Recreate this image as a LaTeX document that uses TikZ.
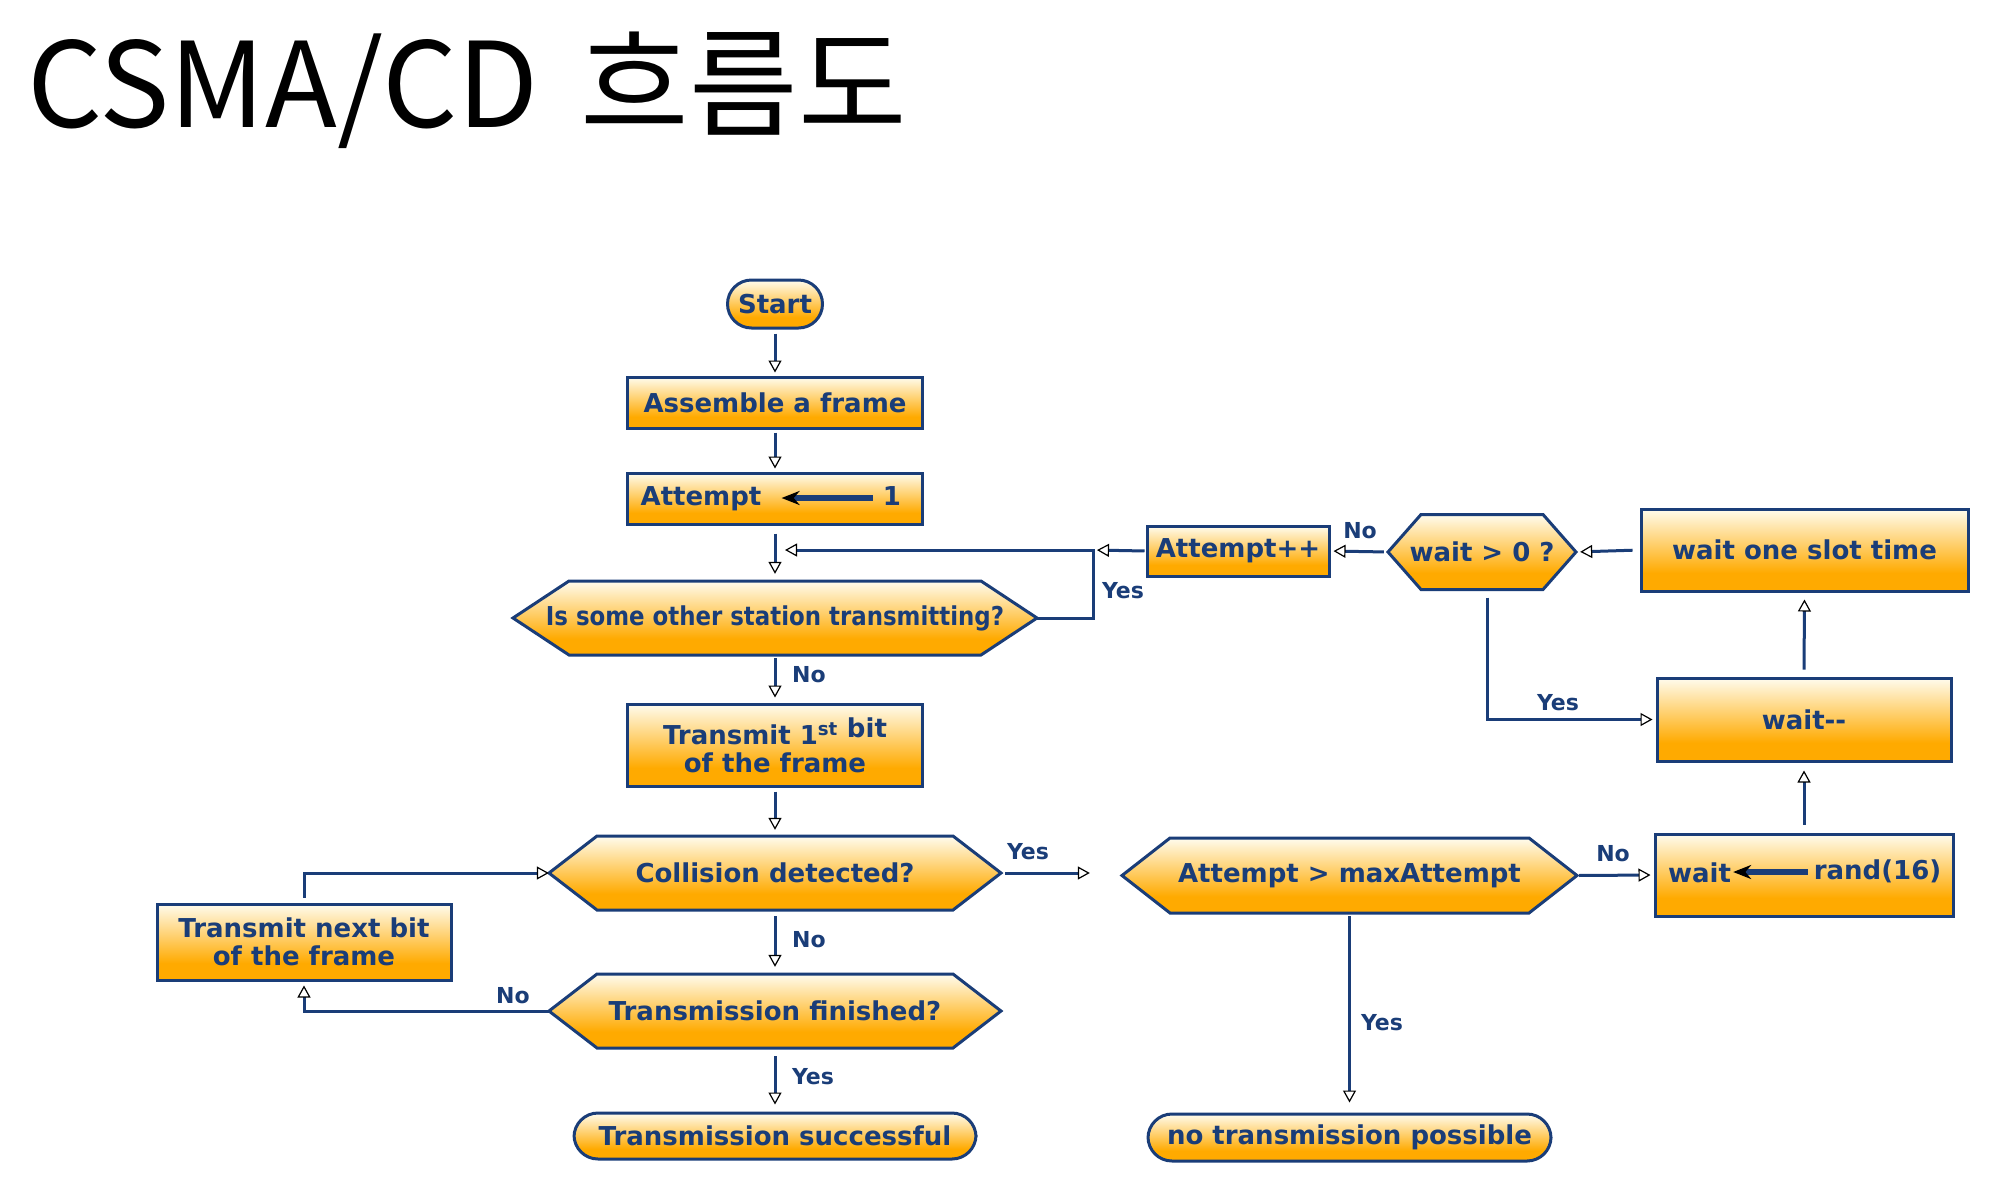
\documentclass[tikz,border=0pt]{standalone}
\usepackage{fontspec}
\setmainfont{DejaVu Sans}
\newfontfamily\krfont{Noto Sans CJK KR}
\newfontfamily\tightfont{DejaVu Sans}[FakeStretch=0.88]
\usetikzlibrary{arrows.meta,calc}
\definecolor{navy}{HTML}{1A3D78}
\definecolor{orng}{HTML}{FFAA00}
\definecolor{crm}{HTML}{FFFCEE}
\pgfdeclareverticalshading{boxshade}{100bp}{color(0bp)=(orng); color(25bp)=(orng); color(36bp)=(orng); color(75bp)=(crm); color(100bp)=(crm)}
\tikzset{
 flowbox/.style={draw=navy, line width=3pt, shading=boxshade, text=navy, font=\bfseries\fontsize{26}{28}\selectfont, inner sep=0pt, align=center},
 pill/.style={flowbox, rounded corners=#1},
 hexline/.style={draw=navy, line width=3pt},
 hexin/.style={inner sep=0pt, text=navy, font=\bfseries\fontsize{26}{28}\selectfont},
 intext/.style={hexin, text height=19pt, text depth=5pt},
 lbl/.style={text=navy, font=\bfseries\fontsize{22}{24}\selectfont, inner sep=0pt},
 conn/.style={draw=navy, line width=3pt, -{Triangle[length=12pt,width=13pt,fill=white,color=black,line width=1.2pt]}},
 inarrow/.style={draw=navy, line width=5.5pt, -{Stealth[length=18pt,width=14pt,color=black]}},
}
\newcommand\hexnode[7]{%
 \shadedraw[hexline, shading=boxshade] ({#2-#4/2},#3) -- ({#2-#4/2+#6},{#3-#5/2}) -- ({#2+#4/2-#6},{#3-#5/2}) -- ({#2+#4/2},#3) -- ({#2+#4/2-#6},{#3+#5/2}) -- ({#2-#4/2+#6},{#3+#5/2}) -- cycle;
 \node[hexin, minimum width=#4, minimum height=#5] (#1) at (#2,#3) {#7};
}
\begin{document}
\begin{tikzpicture}[x=1pt,y=-1pt]
\useasboundingbox (0,0) rectangle (1994,1184);
\fill[white] (0,0) rectangle (1994,1184);
% title
\node[anchor=base west, inner sep=0pt, font=\krfont\fontsize{118}{130}\selectfont] (title) at (27,127) {CSMA/CD\hspace{16pt} 흐름도};

% left column
\node[pill=24pt, minimum width=95, minimum height=48] (start) at (775,304) {Start};
\node[flowbox, minimum width=295, minimum height=51] (assemble) at (775,402.5) {Assemble a frame};
\node[flowbox, minimum width=295, minimum height=51] (attempt) at (775,498.5) {};
\node[intext] (attL) at (701,498) {Attempt};
\node[intext] (attR) at (892,498) {1};
\draw[inarrow, shorten <=10pt, shorten >=20pt] (attR.west) -- (attL.east);
\hexnode{other}{775}{618}{524}{74}{56}{\tightfont\bfseries Is some other station transmitting?}
\node[flowbox, minimum width=295, minimum height=82] (tx1) at (775,745) {Transmit 1\textsuperscript{st} \raisebox{7pt}{bit}\\of the frame};
\hexnode{coll}{775}{873}{452}{74}{48}{Collision detected?}
\hexnode{fin}{775}{1011}{452}{74}{48}{Transmission finished?}
\node[pill=24pt, minimum width=402, minimum height=46] (succ) at (775,1136) {Transmission successful};
\node[flowbox, minimum width=294, minimum height=76] (txnext) at (304,942) {Transmit next bit\\of the frame};

% right part
\node[flowbox, minimum width=182, minimum height=50] (attpp) at (1238,551) {Attempt++};
\hexnode{wgt}{1482}{552}{188}{75}{33}{wait > 0 ?}
\node[flowbox, minimum width=327, minimum height=82] (slot) at (1804.5,550) {wait one slot time};
\node[flowbox, minimum width=294, minimum height=83] (waitdec) at (1804,719.5) {wait-{}-};
\hexnode{maxa}{1349.5}{875.5}{455}{75}{48}{Attempt > maxAttempt}
\node[flowbox, minimum width=298, minimum height=82] (wrand) at (1804,875) {};
\node[intext] (wL) at (1699.5,875) {wait};
\node[intext] (rR) at (1877.5,872) {rand(16)};
\draw[inarrow, shorten <=6pt, shorten >=2pt] (rR.west) -- (rR.west -| wL.east);
\node[pill=24pt, minimum width=403, minimum height=47] (nop) at (1349.5,1137.5) {no transmission possible};

% connectors
\coordinate (jr) at (1093,550);
\coordinate (jl) at (775,550);
\draw[conn, shorten <=4pt, shorten >=3pt] (start.south) -- (assemble.north);
\draw[conn, shorten <=3pt, shorten >=3pt] (assemble.south) -- (attempt.north);
\draw[conn, shorten <=8pt, shorten >=7pt] (attempt.south) -- (other.north);
\draw[conn, shorten <=3pt, shorten >=5pt] (other.south) -- (tx1.north);
\draw[conn, shorten <=4pt, shorten >=6pt] (tx1.south) -- (coll.north);
\draw[conn, shorten <=6pt, shorten >=7pt] (coll.south) -- (fin.north);
\draw[conn, shorten <=8pt, shorten >=7pt] (fin.south) -- (succ.north);
\draw[conn, shorten >=4pt] (fin.west) -| (txnext.south);
\draw[conn, shorten <=5pt] (txnext.north) |- (coll.west);
\draw[conn, shorten <=4pt, shorten >=32pt] (coll.east) -- (coll.east -| maxa.west);
\draw[conn, shorten <=2pt, shorten >=3pt] (maxa.east) -- (wrand.west);
\draw[conn, shorten <=3pt, shorten >=10pt] (maxa.south) -- (nop.north);
\draw[conn, shorten <=8pt, shorten >=8pt] (wrand.north) -- (waitdec.south);
\draw[conn, shorten <=7pt, shorten >=7pt] (waitdec.north) -- (slot.south);
\draw[conn, shorten <=7pt, shorten >=4pt] (slot.west) -- (wgt.east);
\draw[conn, shorten <=4pt, shorten >=3pt] (wgt.west) -- (attpp.east);
\draw[conn, shorten <=1pt, shorten >=4pt] (attpp.west) -- (jr);
\draw[conn, shorten >=10pt] (other.east) -| (jr) -- (jl);
\draw[conn, shorten <=8pt, shorten >=3pt] ([xshift=5pt]wgt.south) |- (waitdec.west);

% labels
\node[lbl] (l1) at (809,675) {No};
\node[lbl] (l2) at (1123,591) {Yes};
\node[lbl] (l3) at (1360,531) {No};
\node[lbl] (l4) at (1558,703) {Yes};
\node[lbl] (l5) at (1028,852) {Yes};
\node[lbl] (l6) at (809,940) {No};
\node[lbl] (l7) at (513,996) {No};
\node[lbl] (l8) at (813,1077) {Yes};
\node[lbl] (l9) at (1613,854) {No};
\node[lbl] (l10) at (1382,1023) {Yes};
\end{tikzpicture}
\end{document}
